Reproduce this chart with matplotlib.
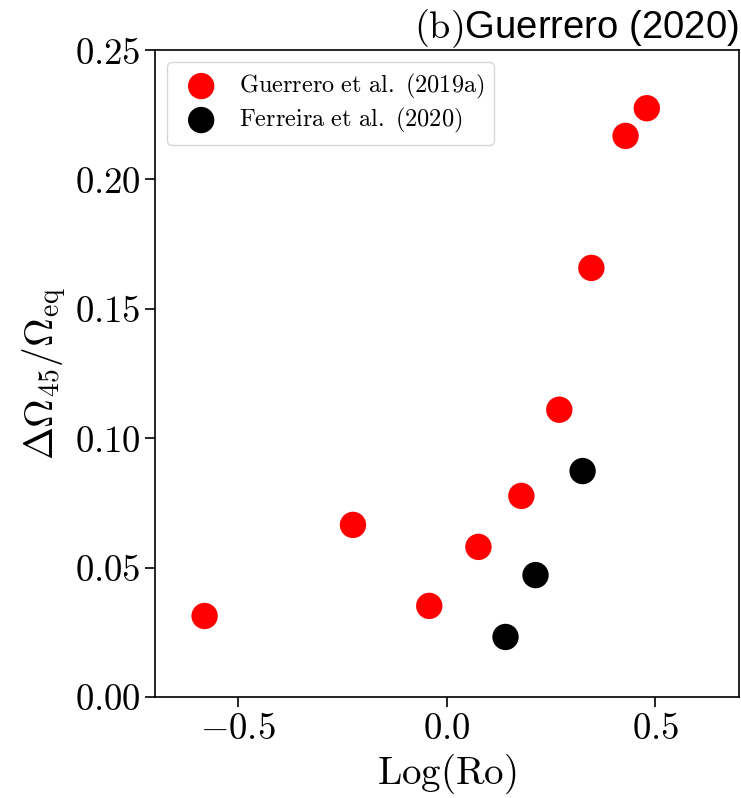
import matplotlib
matplotlib.use("Agg")
import matplotlib.pyplot as plt
from matplotlib.ticker import FuncFormatter, FixedLocator

# Data
guerrero_logro = [-0.581, -0.225, -0.042, 0.076, 0.179, 0.270, 0.347, 0.429, 0.480]
guerrero_dom = [0.0313, 0.0665, 0.0352, 0.0580, 0.0777, 0.1110, 0.1658, 0.2168, 0.2275]
ferreira_logro = [0.141, 0.213, 0.326]
ferreira_dom = [0.0232, 0.0471, 0.0873]

x_ticks = [-0.5, 0.0, 0.5]
y_ticks = [0.00, 0.05, 0.10, 0.15, 0.20, 0.25]

plt.rcParams['mathtext.fontset'] = 'cm'
plt.rcParams['font.family'] = ['Liberation Sans', 'DejaVu Sans']

fig = plt.figure(figsize=(7.41, 7.98), dpi=100)
ax = fig.add_axes([155 / 741, 1 - 697 / 798, (738.5 - 155) / 741, (697 - 50) / 798])

ax.scatter(guerrero_logro, guerrero_dom, s=360, color='red', edgecolors='none',
           label=r'$\mathrm{Guerrero\ et\ al.\ (2019a)}$')
ax.scatter(ferreira_logro, ferreira_dom, s=360, color='black', edgecolors='none',
           label=r'$\mathrm{Ferreira\ et\ al.\ (2020)}$')

ax.set_xlim(-0.7, 0.7)
ax.set_ylim(0, 0.25)
ax.xaxis.set_major_locator(FixedLocator(x_ticks))
ax.yaxis.set_major_locator(FixedLocator(y_ticks))
ax.xaxis.set_major_formatter(FuncFormatter(lambda v, p: r'$%.1f$' % v if abs(v) > 1e-9 else r'$0.0$'))
ax.yaxis.set_major_formatter(FuncFormatter(lambda v, p: r'$%.2f$' % v))
ax.tick_params(labelsize=26.5, length=7, width=1.2)
for s in ax.spines.values():
    s.set_linewidth(1.2)

ax.set_xlabel(r'$\mathrm{Log(Ro)}$', fontsize=28)
ax.set_ylabel(r'$\Delta\Omega_{45}/\Omega_{\rm eq}$', fontsize=28.5)
ax.set_title(r'$\mathrm{(b)}$Guerrero (2020)', loc='right', fontsize=27.5, pad=5)

ax.legend(loc='upper left', fontsize=17.5, scatterpoints=1, frameon=True,
          handletextpad=0.55, borderpad=0.4, labelspacing=0.2)

fig.savefig('out.png', dpi=100)
